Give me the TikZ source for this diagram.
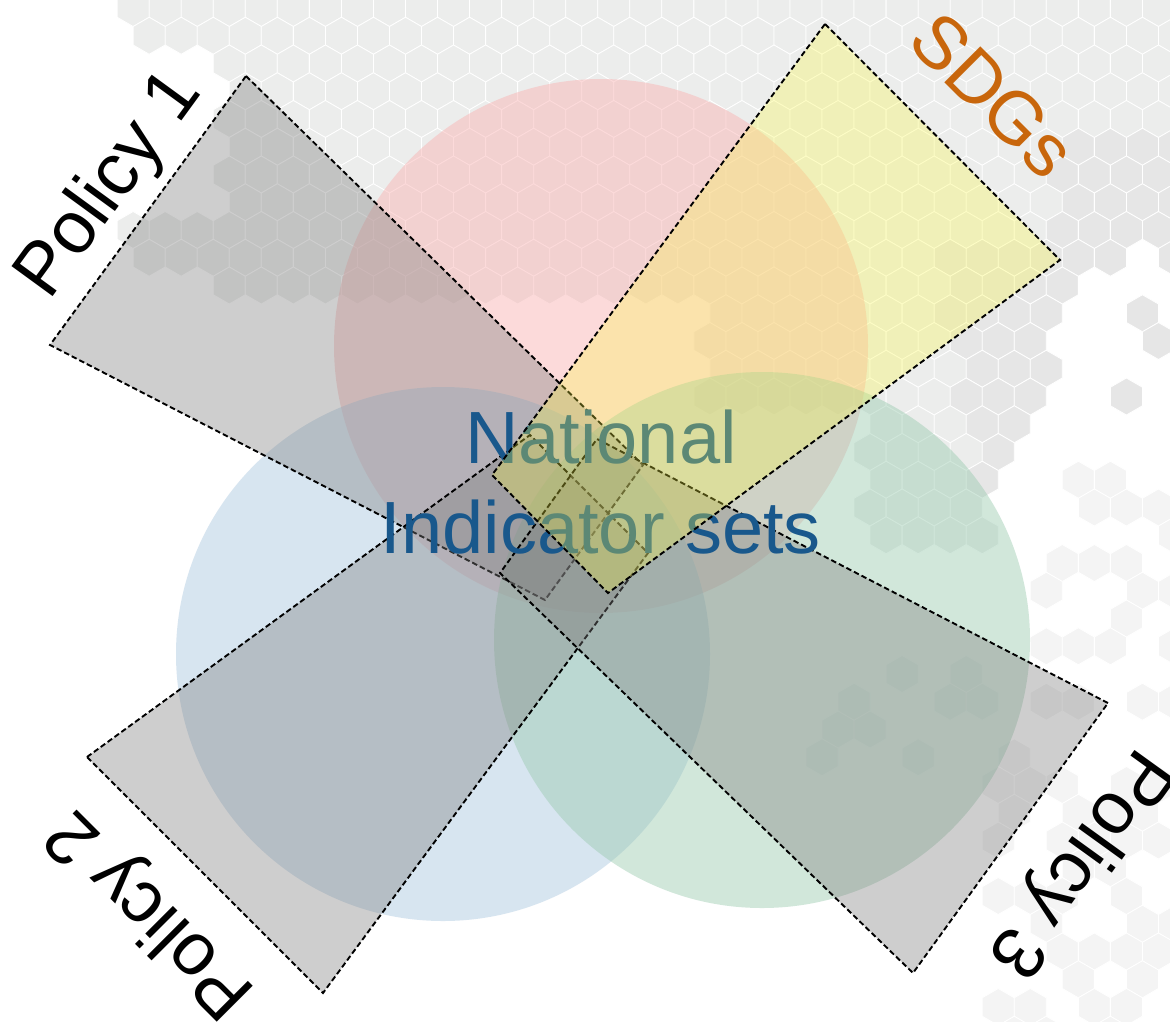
\documentclass[tikz,border=0pt]{standalone}
\usepackage{fontspec}
\setmainfont{Liberation Sans}
\definecolor{hexA}{RGB}{236,237,236}
\definecolor{hexB}{RGB}{230,230,230}
\definecolor{hexC}{RGB}{244,244,244}
\definecolor{pinkc}{RGB}{250,175,175}
\definecolor{bluec}{RGB}{168,198,222}
\definecolor{greenc}{RGB}{153,202,175}
\definecolor{yelc}{RGB}{250,248,66}
\definecolor{natblue}{RGB}{25,88,140}
\definecolor{sdgorange}{RGB}{200,102,12}
\tikzset{
  hexcell/.style={draw=white, line width=0.8pt},
  vennc/.style={fill opacity=0.45},
  policy/.style={fill=black!50, fill opacity=0.38, draw=black, dash pattern=on 5.5pt off 3pt, line width=1.9pt},
  sdgbox/.style={fill=yelc, fill opacity=0.3, draw=black, dash pattern=on 5.5pt off 3pt, line width=1.9pt},
  maintext/.style={font=\fontsize{74}{80}\selectfont, text=natblue, inner sep=0pt},
  lbl/.style={font=\fontsize{74}{80}\selectfont, inner sep=0pt},
}
\begin{document}
\begin{tikzpicture}[x=1pt,y=-1pt]
\useasboundingbox (0,0) rectangle (1170,1021);
\fill[white] (0,0) rectangle (1170,1021);
\pgfmathsetseed{42}
% hexagon background
\foreach \j in {0,...,37} {
  \foreach \i in {-1,...,37} {
    \pgfmathsetmacro\cx{5+32.04*\i+16.02*mod(\j,2)}
    \pgfmathsetmacro\cy{8+27.75*\j}
    \pgfmathtruncatemacro\code{ifthenelse(\cx<125,0,
      ifthenelse((\cx<228)&&(\cy>62)&&(\cy<205),0,
      ifthenelse((\cx<210)&&(\cy>=262),0,
      ifthenelse((\cx<700)&&(\cy<300),1,
      ifthenelse((\cx>=700)&&(\cx<1055)&&(\cy<250),1,
      ifthenelse((\cx>=1055)&&(\cy<120),1,
      ifthenelse((\cx>=1055)&&(\cy<235),2,
      ifthenelse((\cy>=235)&&(\cy<=495)&&(\cx>=935+(\cy-235)*0.17)&&(\cx<=1110-(\cy-235)*0.45),2,
      ifthenelse((\cx>=700)&&(\cx<935)&&(\cy<420),1,
      ifthenelse((\cx>=860)&&(\cx<990)&&(\cy<560),1,
      ifthenelse((\cx>1105)&&(\cy<420)&&(rnd<0.3),2,
      ifthenelse((\cx>1040)&&(\cy>470)&&(\cy<720)&&(rnd<0.45),3,
      ifthenelse((\cx>985)&&(\cy>770)&&(rnd<0.6),3,
      ifthenelse((\cx>820)&&(\cx<1030)&&(\cy>600)&&(\cy<780)&&(rnd<0.35),3,0))))))))))))))}
    \ifcase\code
    \or \filldraw[hexcell, fill=hexA] (\cx+16.02,\cy-9.25) -- (\cx,\cy-18.5) -- (\cx-16.02,\cy-9.25) -- (\cx-16.02,\cy+9.25) -- (\cx,\cy+18.5) -- (\cx+16.02,\cy+9.25) -- cycle;
    \or \filldraw[hexcell, fill=hexB] (\cx+16.02,\cy-9.25) -- (\cx,\cy-18.5) -- (\cx-16.02,\cy-9.25) -- (\cx-16.02,\cy+9.25) -- (\cx,\cy+18.5) -- (\cx+16.02,\cy+9.25) -- cycle;
    \or \filldraw[hexcell, fill=hexC] (\cx+16.02,\cy-9.25) -- (\cx,\cy-18.5) -- (\cx-16.02,\cy-9.25) -- (\cx-16.02,\cy+9.25) -- (\cx,\cy+18.5) -- (\cx+16.02,\cy+9.25) -- cycle;
    \fi
  }
}
% circles
\fill[vennc, pinkc] (601,346) circle[radius=267pt];
\fill[vennc, bluec] (443,654) circle[radius=267pt];
\fill[vennc, greenc] (762,640) circle[radius=268pt];
% policy trapezoids
\draw[policy] (246,76) -- (643,465) -- (545,600) -- (50,345) -- cycle;
\draw[policy] (87,757) -- (530,435) -- (648,553) -- (323,993) -- cycle;
\draw[policy] (1108,703) -- (597,439) -- (500,573) -- (913,973) -- cycle;
% central text
\node[maintext, anchor=base] (nat) at (601,463) {National};
\node[maintext, anchor=base] (ind) at (601,553) {Indicator sets};
% SDGs trapezoid
\draw[sdgbox] (825,24) -- (1060,260) -- (608,593) -- (492,475) -- cycle;
% labels
\node[lbl, rotate=53.9, anchor=base] (p1) at (126,197) {Policy 1};
\node[lbl, rotate=-45, text=sdgorange] (sdg) at (993,95) {SDGs};
\node[lbl, rotate=135] (p2) at (152,912) {Policy 2};
\node[lbl, rotate=-125.8] (p3) at (1078,862) {Policy 3};
\end{tikzpicture}
\end{document}
